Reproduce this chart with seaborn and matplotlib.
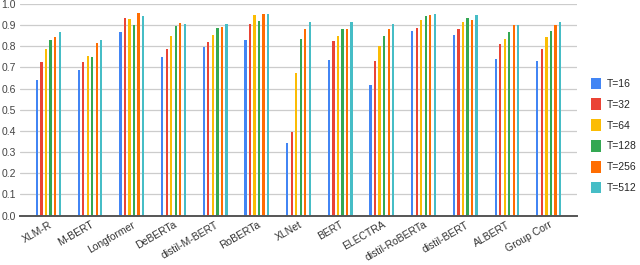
import matplotlib
matplotlib.use("Agg")
import matplotlib.pyplot as plt
import seaborn as sns
import pandas as pd

models = ["XLM-R", "M-BERT", "Longformer", "DeBERTa", "distil-M-BERT", "RoBERTa",
          "XLNet", "BERT", "ELECTRA", "distil-RoBERTa", "distil-BERT", "ALBERT", "Group Corr"]
series_names = ["T=16", "T=32", "T=64", "T=128", "T=256", "T=512"]

t16 = [0.642, 0.687, 0.867, 0.750, 0.795, 0.830, 0.345, 0.737, 0.619, 0.872, 0.852, 0.741, 0.730]
t32 = [0.728, 0.728, 0.933, 0.785, 0.820, 0.905, 0.394, 0.827, 0.730, 0.888, 0.881, 0.813, 0.788]
t64 = [0.786, 0.752, 0.928, 0.850, 0.855, 0.950, 0.672, 0.847, 0.803, 0.922, 0.913, 0.836, 0.844]
t128 = [0.830, 0.748, 0.900, 0.897, 0.885, 0.918, 0.834, 0.881, 0.847, 0.942, 0.933, 0.869, 0.872]
t256 = [0.843, 0.815, 0.957, 0.908, 0.893, 0.953, 0.884, 0.881, 0.884, 0.947, 0.922, 0.902, 0.902]
t512 = [0.868, 0.830, 0.945, 0.905, 0.905, 0.953, 0.913, 0.913, 0.905, 0.953, 0.947, 0.902, 0.914]

colors = ["#4285F4", "#EA4335", "#FBBC04", "#34A853", "#FF6D01", "#46BDC6"]

rows = []
for name, vals in zip(series_names, [t16, t32, t64, t128, t256, t512]):
    for m, v in zip(models, vals):
        rows.append({"model": m, "series": name, "value": v})
df = pd.DataFrame(rows)

sns.set_style("white")
plt.rcParams["font.family"] = ["Liberation Sans", "DejaVu Sans"]

fig = plt.figure(figsize=(6.4, 2.65), dpi=100)
ax = fig.add_axes([20/640, 1 - 215.5/265, 557/640, 211.5/265])

sns.barplot(data=df, x="model", y="value", hue="series", order=models,
            hue_order=series_names, palette=colors, width=0.65, gap=0.5,
            ax=ax, legend=True, saturation=1, linewidth=0)

ax.set_ylim(0, 1.0)
ax.set_xlim(-0.68, 12.68)
ax.set_yticks([i / 10 for i in range(11)])
ax.set_yticklabels([f"{i/10:.1f}" for i in range(11)], fontsize=7.5, color="#444444")
ax.set_xlabel("")
ax.set_ylabel("")
ax.yaxis.grid(True, color="#cccccc", linewidth=0.9)
ax.set_axisbelow(True)
for s in ["top", "right", "left"]:
    ax.spines[s].set_visible(False)
ax.spines["bottom"].set_color("#555555")
ax.spines["bottom"].set_linewidth(1.4)
ax.tick_params(axis="both", length=0, pad=3)
ax.set_xticks(range(len(models)))
ax.set_xticklabels(models, rotation=30, ha="right", rotation_mode="anchor",
                   fontsize=7.5, color="#333333")

handles, labels = ax.get_legend_handles_labels()
ax.legend_.remove()
fig.legend(handles, labels, loc="upper left", bbox_to_anchor=(591/640, 1 - 77.5/265),
           frameon=False, fontsize=7.5, handlelength=0.96, handleheight=1.35,
           labelspacing=0.88, handletextpad=0.6, borderaxespad=0, borderpad=0)

fig.savefig("out.png", dpi=100)
